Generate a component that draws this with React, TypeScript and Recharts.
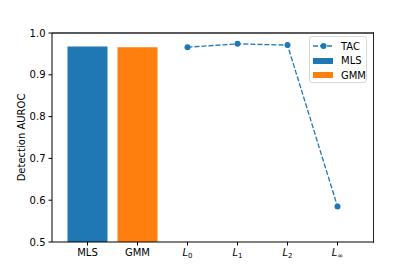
import React from "react";
import {
  ComposedChart,
  Bar,
  Cell,
  Line,
  XAxis,
  YAxis,
  Legend,
  ReferenceLine,
} from "recharts";

// categories along the x axis
const categories = ["MLS", "GMM", "L0", "L1", "L2", "Linf"];
const subscripts: Record<string, string> = { L0: "0", L1: "1", L2: "2", Linf: "∞" };

// baseline bars
const mlsScores = [0.968, null, null, null, null, null];
const gmmScores = [null, 0.966, null, null, null, null];
// TAC with different norms
const tacScores = [null, null, 0.966, 0.974, 0.971, 0.585];

const yTicks = [0.5, 0.6, 0.7, 0.8, 0.9, 1.0];

const BLUE = "#1f77b4";
const ORANGE = "#ff7f0e";
const FONT = "DejaVu Sans, sans-serif";

const data = categories.map((c, i) => ({
  name: c,
  bar: mlsScores[i] ?? gmmScores[i],
  tac: tacScores[i],
}));

const XTick = (props: any) => {
  const { x, y, payload } = props;
  const name: string = payload.value;
  const sub = subscripts[name];
  return (
    <text x={x} y={y} dy="0.71em" textAnchor="middle" fontSize={10} fontFamily={FONT} fill="#000">
      {sub === undefined ? (
        name
      ) : (
        <>
          <tspan fontStyle="italic">L</tspan>
          <tspan fontSize={7} dy={2}>{sub}</tspan>
        </>
      )}
    </text>
  );
};

const LegendBox = () => (
  <div
    style={{
      width: 58,
      height: 47,
      border: "1px solid #d8d8d8",
      borderRadius: 3,
      background: "rgba(255,255,255,0.8)",
      fontFamily: FONT,
      fontSize: 10,
      boxSizing: "border-box",
      padding: "2px 0 0 3px",
    }}
  >
    <div style={{ display: "flex", alignItems: "center", height: 14.5 }}>
      <svg width={21} height={8} style={{ marginRight: 7 }}>
        <line x1={0} y1={4} x2={21} y2={4} stroke={BLUE} strokeWidth={1.3} strokeDasharray="5 2" />
        <circle cx={10.5} cy={4} r={3} fill={BLUE} />
      </svg>
      <span>TAC</span>
    </div>
    <div style={{ display: "flex", alignItems: "center", height: 14.5 }}>
      <div style={{ width: 20, height: 6, background: BLUE, marginRight: 8 }} />
      <span>MLS</span>
    </div>
    <div style={{ display: "flex", alignItems: "center", height: 14.5 }}>
      <div style={{ width: 20, height: 6, background: ORANGE, marginRight: 8 }} />
      <span>GMM</span>
    </div>
  </div>
);

export default function App() {
  return (
    <div style={{ position: "absolute", left: 0, top: 0, width: 415, height: 277, background: "#fff" }}>
      <ComposedChart
        width={415}
        height={277}
        data={data}
        margin={{ top: 33, right: 42, bottom: 0, left: 0 }}
      >
        <XAxis
          dataKey="name"
          interval={0}
          height={35}
          padding={{ left: 10.5, right: 10.5 }}
          tickSize={3.5}
          tickMargin={3.5}
          tick={<XTick />}
          stroke="#000"
        />
        <YAxis
          type="number"
          domain={[0.5, 1]}
          ticks={yTicks}
          width={52}
          tickSize={3.5}
          tickMargin={3}
          tickFormatter={(v: number) => v.toFixed(1)}
          tick={{ fontSize: 10, fontFamily: FONT, fill: "#000" }}
          stroke="#000"
          label={{
            content: () => (
              <text
                x={21}
                y={137.5}
                transform="rotate(-90 21 137.5)"
                textAnchor="middle"
                dominantBaseline="central"
                fontSize={10}
                fontFamily={FONT}
                fill="#000"
              >
                Detection AUROC
              </text>
            ),
          }}
        />
        {/* top spine */}
        <ReferenceLine y={1} stroke="#222" strokeWidth={1.3} ifOverflow="visible" />
        <Bar dataKey="bar" barSize={40} isAnimationActive={false}>
          {data.map((d, i) => (
            <Cell key={d.name} fill={i === 0 ? BLUE : ORANGE} />
          ))}
        </Bar>
        <Line
          dataKey="tac"
          stroke={BLUE}
          strokeWidth={1.3}
          strokeDasharray="5 2"
          dot={{ r: 3, fill: BLUE, stroke: BLUE, strokeWidth: 0 }}
          activeDot={false}
          isAnimationActive={false}
        />
        <Legend
          layout="horizontal"
          verticalAlign="middle"
          content={() => <LegendBox />}
          wrapperStyle={{ position: "absolute", left: 309, top: 36, width: 60 }}
        />
      </ComposedChart>
      {/* right spine */}
      <div
        style={{
          position: "absolute",
          left: 52,
          top: 32,
          width: 322,
          height: 211,
          borderRight: "1.3px solid #222",
          boxSizing: "border-box",
          pointerEvents: "none",
        }}
      />
    </div>
  );
}
